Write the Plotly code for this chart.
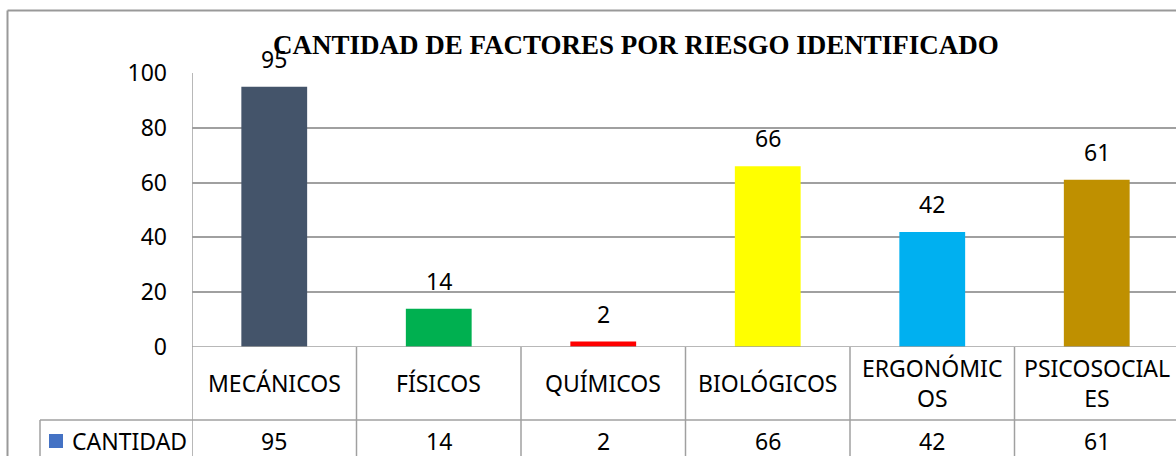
import plotly.graph_objects as go

categories = ["MECÁNICOS", "FÍSICOS", "QUÍMICOS", "BIOLÓGICOS", "ERGONÓMICOS", "PSICOSOCIALES"]
category_labels = ["MECÁNICOS", "FÍSICOS", "QUÍMICOS", "BIOLÓGICOS", "ERGONÓMIC<br>OS", "PSICOSOCIAL<br>ES"]
values = [95, 14, 2, 66, 42, 61]
bar_colors = ["#44546A", "#00B050", "#FF0000", "#FFFF00", "#00B0F0", "#BF9000"]
series_name = "CANTIDAD"
title = "CANTIDAD DE FACTORES POR RIESGO IDENTIFICADO"
y_ticks = [0, 20, 40, 60, 80, 100]

W, H = 1176, 456
GRID = "#A0A0A0"
FONT = "Noto Sans"
FS = 23

def px(x):
    return x / W

def py(y):
    return (H - y) / H

plot_left = 192
plot_right = 1179
plot_top = 73
plot_bottom = 347
table_mid = 420

fig = go.Figure()
fig.add_trace(go.Bar(
    x=categories, y=values, marker=dict(color=bar_colors, line=dict(width=0)),
    width=0.4, name=series_name, showlegend=False, hoverinfo="x+y",
))

n = len(categories)
col_w = (plot_right - plot_left) / n
x_right = (n - 0.5) - (plot_right - W) / col_w

fig.update_layout(
    width=W, height=H,
    margin=dict(l=0, r=0, t=0, b=0, autoexpand=False),
    paper_bgcolor="white", plot_bgcolor="white",
    font=dict(family=FONT, size=FS, color="black"),
    xaxis=dict(domain=[px(plot_left), 1], range=[-0.5, x_right],
               showticklabels=False, showgrid=False, zeroline=False,
               showline=False, ticks="", automargin=False),
    yaxis=dict(domain=[py(plot_bottom), py(plot_top)], range=[0, 100],
               tickvals=y_ticks, showgrid=True, gridcolor=GRID, gridwidth=1.5,
               zeroline=False, showline=False, ticks="", automargin=False,
               ticklabelstandoff=24,
               tickfont=dict(family=FONT, size=FS, color="black")),
)

annotations = []
# title
annotations.append(dict(text="<b>" + title + "</b>", xref="paper", yref="paper",
                        x=px(636), y=py(45), xanchor="center", yanchor="middle",
                        showarrow=False,
                        font=dict(family="Liberation Serif", size=27, color="black")))
# data labels
for c, v in zip(categories, values):
    annotations.append(dict(text=str(v), x=c, y=v, xref="x", yref="y",
                            xanchor="center", yanchor="bottom", yshift=10,
                            showarrow=False, font=dict(family=FONT, size=FS, color="black")))
# category labels in table
for c, lab in zip(categories, category_labels):
    annotations.append(dict(text=lab, x=c, y=py(383), xref="x", yref="paper",
                            xanchor="center", yanchor="middle", showarrow=False,
                            font=dict(family=FONT, size=FS, color="black")))
# values row in table
for c, v in zip(categories, values):
    annotations.append(dict(text=str(v), x=c, y=py(441), xref="x", yref="paper",
                            xanchor="center", yanchor="middle", showarrow=False,
                            font=dict(family=FONT, size=FS, color="black")))
# series name in table
annotations.append(dict(text=series_name, x=px(70), y=py(441), xref="paper", yref="paper",
                        xanchor="left", yanchor="middle", showarrow=False,
                        font=dict(family=FONT, size=FS, color="black")))
fig.update_layout(annotations=annotations)

shapes = []
line = dict(color=GRID, width=1.5)
border = dict(color="#999999", width=2)
# outer chart border
shapes.append(dict(type="line", xref="paper", yref="paper", x0=px(7.5), x1=1.02,
                   y0=py(10.5), y1=py(10.5), line=border))
shapes.append(dict(type="line", xref="paper", yref="paper", x0=px(7.5), x1=px(7.5),
                   y0=py(10.5), y1=-0.05, line=border))
# plot-area left border / table left edge
shapes.append(dict(type="line", xref="x", yref="paper", x0=-0.5, x1=-0.5,
                   y0=-0.05, y1=py(plot_top), line=line))
# axis line at zero
shapes.append(dict(type="line", xref="paper", yref="y", x0=px(plot_left), x1=1.02,
                   y0=0, y1=0, line=line))
# table horizontal divider
shapes.append(dict(type="line", xref="paper", yref="paper", x0=px(40), x1=1.02,
                   y0=py(table_mid), y1=py(table_mid), line=line))
# legend column left edge
shapes.append(dict(type="line", xref="paper", yref="paper", x0=px(40), x1=px(40),
                   y0=-0.05, y1=py(table_mid), line=line))
# column dividers
for i in range(n - 1):
    shapes.append(dict(type="line", xref="x", yref="paper", x0=i + 0.5, x1=i + 0.5,
                       y0=-0.05, y1=py(plot_bottom), line=line))
# legend key
shapes.append(dict(type="rect", xref="paper", yref="paper", x0=px(49), x1=px(63),
                   y0=py(448), y1=py(434), fillcolor="#4472C4", line=dict(width=0)))
fig.update_layout(shapes=shapes)

fig.write_html(
    "out.html",
    config={"displayModeBar": False},
    post_script="document.body.style.margin='0';document.body.style.overflow='hidden';",
)
